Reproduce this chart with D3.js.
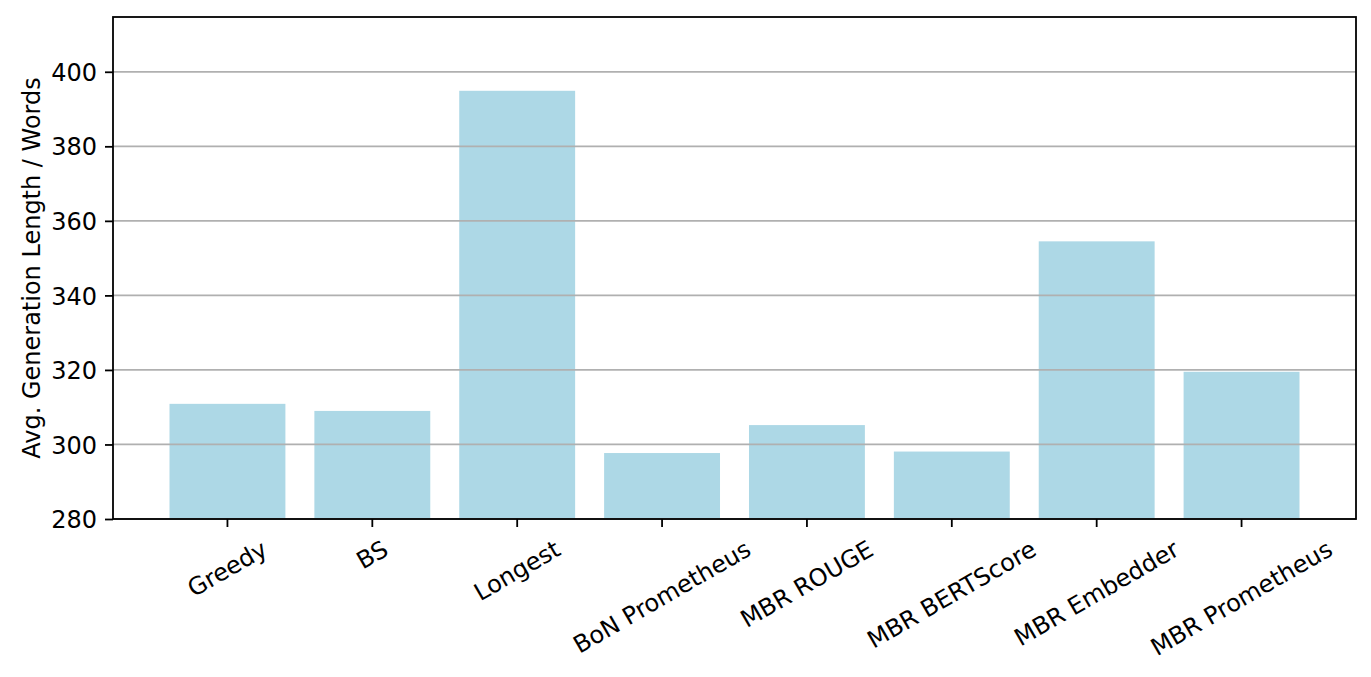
<!DOCTYPE html>
<html>
<head>
<meta charset="utf-8">
<script src="https://cdn.jsdelivr.net/npm/d3@7"></script>
<style>
  body { margin: 0; background: #fff; }
  svg text { font-family: 'DejaVu Sans', sans-serif; fill: #000; }
</style>
</head>
<body>
<div id="chart"></div>
<script>
// data
var methods = ['Greedy', 'BS', 'Longest', 'BoN Prometheus', 'MBR ROUGE', 'MBR BERTScore', 'MBR Embedder', 'MBR Prometheus'];
var avgLength = [310.9, 309.0, 394.9, 297.7, 305.2, 298.1, 354.5, 319.5];
var yTicks = [280, 300, 320, 340, 360, 380, 400];
var yMin = 280, yMax = 414.7;

var W = 1371, H = 677;
var margin = { top: 17, bottom: 158, left: 113, right: 15 },
    width = W - margin.left - margin.right,
    height = H - margin.top - margin.bottom;

var fontSize = 24;

var data = methods.map(function(m, i) { return { name: m, value: avgLength[i] }; });

var svg = d3.select('#chart')
    .append('svg')
    .attr('width', W)
    .attr('height', H);

var g = svg.append('g')
    .attr('transform', 'translate(' + margin.left + ',' + margin.top + ')');

var xScale = d3.scaleBand()
    .domain(methods)
    .range([0, width])
    .paddingInner(0.2)
    .paddingOuter(0.39);

var yScale = d3.scaleLinear()
    .domain([yMin, yMax])
    .range([height, 0]);

// bars
g.selectAll('.bar')
    .data(data)
    .enter().append('rect')
    .attr('class', 'bar')
    .attr('x', function(d) { return xScale(d.name); })
    .attr('y', function(d) { return yScale(d.value); })
    .attr('width', xScale.bandwidth())
    .attr('height', function(d) { return height - yScale(d.value); })
    .attr('fill', '#add8e6');

// grid (drawn above the bars, like matplotlib's default)
g.append('g')
    .selectAll('line')
    .data(yTicks)
    .enter().append('line')
    .attr('x1', 0)
    .attr('x2', width)
    .attr('y1', function(d) { return yScale(d); })
    .attr('y2', function(d) { return yScale(d); })
    .attr('stroke', '#b0b0b0')
    .attr('stroke-width', 1.8);

// y axis
var yAxis = g.append('g')
    .call(d3.axisLeft(yScale).tickValues(yTicks).tickSize(8).tickPadding(8));
yAxis.select('.domain').remove();
yAxis.selectAll('line').attr('stroke', '#000').attr('stroke-width', 1.8);
yAxis.selectAll('text')
    .style('font-size', fontSize + 'px')
    .attr('dy', '0.36em');

// x axis
var xAxis = g.append('g')
    .attr('transform', 'translate(0,' + height + ')')
    .call(d3.axisBottom(xScale).tickSize(8).tickPadding(8));
xAxis.select('.domain').remove();
xAxis.selectAll('line').attr('stroke', '#000').attr('stroke-width', 1.8);

// rotated labels, centred on the tick like ha='center'
var labelTop = 8 + 8;
xAxis.selectAll('text')
    .style('font-size', fontSize + 'px')
    .attr('y', 0)
    .attr('dy', null)
    .attr('text-anchor', 'middle')
    .each(function() {
        var b = this.getBBox();
        var cy0 = b.y + b.height / 2;
        var rot = 30 * Math.PI / 180;
        var hh = b.width * Math.sin(rot) + b.height * Math.cos(rot);
        var ty = labelTop + hh / 2;
        d3.select(this).attr('transform',
            'translate(0,' + ty + ') rotate(-30) translate(0,' + (-cy0) + ')');
    });

// frame
g.append('rect')
    .attr('x', 0)
    .attr('y', 0)
    .attr('width', width)
    .attr('height', height)
    .attr('fill', 'none')
    .attr('stroke', '#000')
    .attr('stroke-width', 1.8);

// y label
g.append('text')
    .attr('transform', 'rotate(-90)')
    .attr('x', -height / 2)
    .attr('y', 31 - margin.left)
    .attr('dy', '0.36em')
    .style('text-anchor', 'middle')
    .style('font-size', fontSize + 'px')
    .text('Avg. Generation Length / Words');
</script>
</body>
</html>
